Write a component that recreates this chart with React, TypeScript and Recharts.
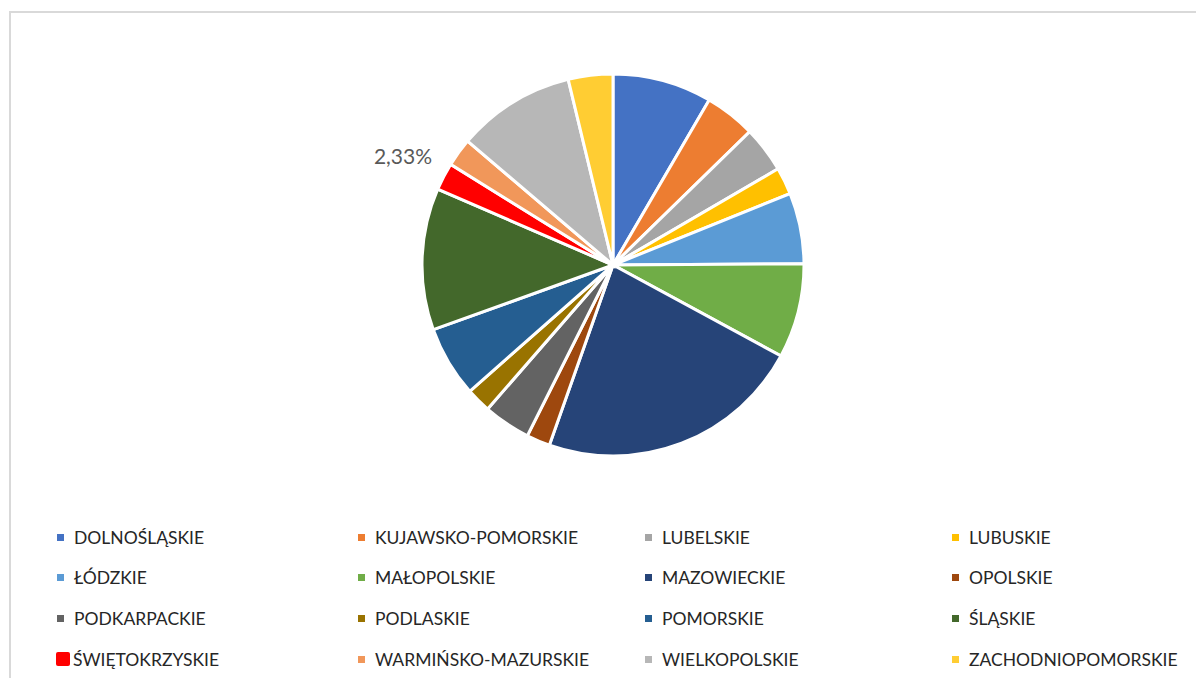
import React from 'react';
import { PieChart, Pie, Cell, Legend } from 'recharts';

const regions = [
  'DOLNOŚLĄSKIE', 'KUJAWSKO-POMORSKIE', 'LUBELSKIE', 'LUBUSKIE',
  'ŁÓDZKIE', 'MAŁOPOLSKIE', 'MAZOWIECKIE', 'OPOLSKIE',
  'PODKARPACKIE', 'PODLASKIE', 'POMORSKIE', 'ŚLĄSKIE',
  'ŚWIĘTOKRZYSKIE', 'WARMIŃSKO-MAZURSKIE', 'WIELKOPOLSKIE', 'ZACHODNIOPOMORSKIE',
];

// share of total, %
const shares = [8.4, 4.3, 3.9, 2.3, 6.0, 8.0, 22.5, 2.0, 4.0, 2.1, 6.0, 12.0, 2.33, 2.4, 10.0, 3.77];

const colors = [
  '#4472C4', '#ED7D31', '#A5A5A5', '#FFC000',
  '#5B9BD5', '#70AD47', '#264478', '#9E480E',
  '#636363', '#997300', '#255E91', '#43682B',
  '#FF0000', '#F1975A', '#B7B7B7', '#FFCD33',
];

const labelled = 'ŚWIĘTOKRZYSKIE';

const data = regions.map((name, i) => ({ name, value: shares[i] }));

const FONT = 'Lato, "Open Sans", sans-serif';
const RAD = Math.PI / 180;

const renderLabel = (props: any) => {
  if (props.name !== labelled) return <g />;
  const r = props.outerRadius + 46;
  const x = props.cx + r * Math.cos(-props.midAngle * RAD);
  const y = props.cy + r * Math.sin(-props.midAngle * RAD);
  return (
    <text x={x} y={y} textAnchor="middle" dominantBaseline="central" fill="#595959" fontSize={21} fontFamily={FONT}>
      {props.value.toFixed(2).replace('.', ',')}%
    </text>
  );
};

const colLeft = [57, 358, 645, 952];

const LegendGrid = (props: any) => {
  // keep the series order, not alphabetical
  const items = [...(props.payload || [])].sort(
    (a: any, b: any) => regions.indexOf(a.value) - regions.indexOf(b.value),
  );
  return (
    <div style={{ position: 'relative', width: 1204, height: 170 }}>
      {items.map((item: any, i: number) => {
        const big = item.value === labelled;
        const size = big ? 14 : 7;
        return (
          <div
            key={item.value}
            style={{
              position: 'absolute',
              left: colLeft[i % 4] - (big ? 1 : 0),
              top: Math.floor(i / 4) * 40.7,
              height: 40,
              display: 'flex',
              alignItems: 'center',
              fontFamily: FONT,
              fontSize: 17.5,
              color: '#262626',
              whiteSpace: 'nowrap',
            }}
          >
            <span
              style={{
                display: 'inline-block',
                width: size,
                height: size,
                background: item.color,
                borderRadius: big ? 2 : 0,
                marginRight: big ? 3 : 10,
              }}
            />
            {item.value}
          </div>
        );
      })}
    </div>
  );
};

export default function App() {
  return (
    <div style={{ position: 'relative', margin: -8, width: 1204, height: 686, background: '#fff', overflow: 'hidden' }}>
      <div
        style={{
          position: 'absolute',
          left: 9,
          top: 11,
          right: -4,
          bottom: -4,
          borderTop: '2px solid #d9d9d9',
          borderLeft: '2px solid #d9d9d9',
        }}
      />
      <PieChart
        width={1204}
        height={686}
        margin={{ top: 0, right: 0, bottom: 0, left: 0 }}
        style={{ position: 'absolute', left: 0, top: 0 }}
      >
        <Pie
          data={data}
          dataKey="value"
          nameKey="name"
          cx={613}
          cy={265}
          outerRadius={191}
          startAngle={90}
          endAngle={-270}
          stroke="#fff"
          strokeWidth={3}
          label={renderLabel}
          labelLine={false}
          isAnimationActive={false}
        >
          {data.map((d, i) => (
            <Cell key={d.name} fill={colors[i]} />
          ))}
        </Pie>
        <Legend
          content={<LegendGrid />}
          wrapperStyle={{ position: 'absolute', left: 0, top: 517, width: 1204 }}
        />
      </PieChart>
    </div>
  );
}
